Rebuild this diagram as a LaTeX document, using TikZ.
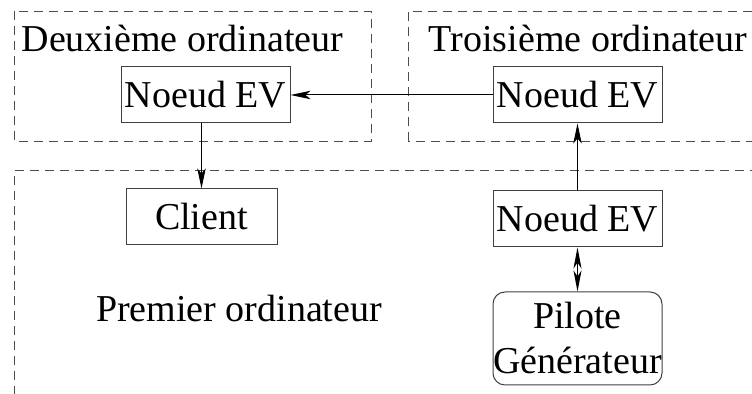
\documentclass[tikz,border=0pt]{standalone}
\usepackage{fontspec}
\setmainfont{Liberation Serif}
\usetikzlibrary{arrows.meta}
\begin{document}
\begin{tikzpicture}[x=0.5pt,y=-0.5pt,
  frame/.style={draw=black!70,line width=0.5pt,dash pattern=on 4.5pt off 3pt},
  box/.style={draw=black!75,line width=0.5pt,inner sep=0pt,font=\fontsize{19}{21}\selectfont},
  title/.style={inner sep=0pt,font=\fontsize{19}{21}\selectfont},
  link/.style={line width=0.5pt,-{Stealth[length=10pt,width=4.2pt,inset=2.5pt]}},
  twoway/.style={line width=0.5pt,{Stealth[length=10.5pt,width=4pt,inset=3pt]}-{Stealth[length=10.5pt,width=4pt,inset=3pt]}}]
\useasboundingbox (0,0) rectangle (752,394);
\begin{scope}
  \clip (0,0) rectangle (752,394);
  % computer frames
  \draw[frame] (14,11.5) rectangle (371,141.5);
  \draw[frame] (408,141.5) -- (408,11.5) -- (770,11.5);
  \draw[frame] (770,141.5) -- (408,141.5);
  \draw[frame] (14,410) -- (14,170.5) -- (770,170.5);
\end{scope}
% frame titles
\node[title] (t2) at (182.5,38) {Deuxième ordinateur};
\node[title] (t3) at (588,38) {Troisième ordinateur};
\node[title] (t1) at (239,309) {Premier ordinateur};
% components
\node[box,minimum width=84.5pt,minimum height=28pt] (ev2) at (205.5,95) {Noeud EV};
\node[box,minimum width=84.5pt,minimum height=28pt] (ev3) at (577.5,95) {Noeud EV};
\node[box,minimum width=75.5pt,minimum height=28pt] (cl) at (201.5,217) {Client};
\node[box,minimum width=84.5pt,minimum height=28pt] (ev1) at (577.5,219) {Noeud EV};
\node[box,rounded corners=6pt,minimum width=84.5pt,minimum height=46.5pt,align=center,
      font=\fontsize{19}{22.5}\selectfont] (pg) at (577.5,338.5) {Pilote\\Générateur};
% connections
\draw[link] (ev3.west) -- (ev2.east);
\draw[link] (ev2.south -| cl.north) -- (cl.north);
\draw[link] (ev1.north) -- (ev3.south);
\draw[twoway] (ev1.south) -- (pg.north);
\end{tikzpicture}
\end{document}
